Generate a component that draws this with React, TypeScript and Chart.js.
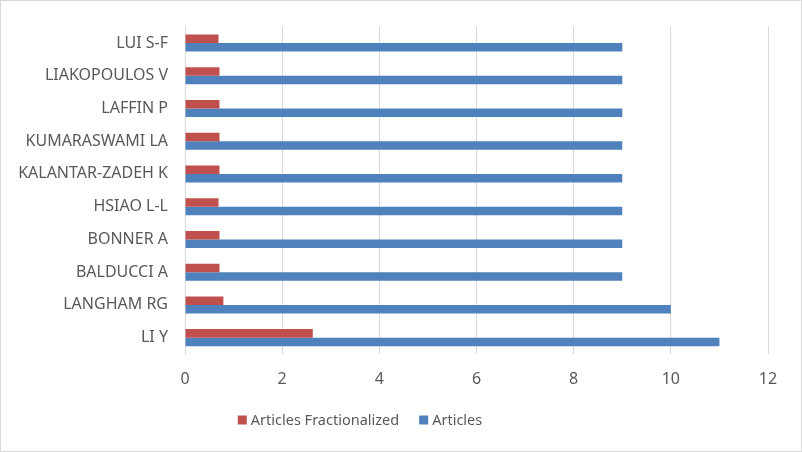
import React, { useEffect, useRef } from "react";
import { Chart, registerables } from "chart.js";

Chart.register(...registerables);

const categories = [
  "LUI S-F",
  "LIAKOPOULOS V",
  "LAFFIN P",
  "KUMARASWAMI LA",
  "KALANTAR-ZADEH K",
  "HSIAO L-L",
  "BONNER A",
  "BALDUCCI A",
  "LANGHAM RG",
  "LI Y",
];
const articlesFractionalized = [0.69, 0.71, 0.71, 0.71, 0.71, 0.69, 0.71, 0.71, 0.79, 2.63];
const articles = [9, 9, 9, 9, 9, 9, 9, 9, 10, 11];
const xTicks = [0, 2, 4, 6, 8, 10, 12];

const RED = "#C0504D";
const BLUE = "#4F81BD";
const TEXT = "#595959";
const GRID = "#D9D9D9";
const FONT_FAMILY = "'Noto Sans', 'Open Sans', sans-serif";
const TICK_SIZE = 16;
const LEGEND_SIZE = 14.5;

const legendPlugin = {
  id: "customLegend",
  afterDraw(chart: any) {
    const ctx = chart.ctx as CanvasRenderingContext2D;
    ctx.save();
    ctx.font = `${LEGEND_SIZE}px ${FONT_FAMILY}`;
    ctx.textBaseline = "middle";
    ctx.textAlign = "left";
    const box = 9;
    const gapText = 4;
    const gapItem = 20;
    const items = chart.data.datasets.map((ds: any) => ({ label: ds.label, color: ds.backgroundColor }));
    const widths = items.map((it: any) => box + gapText + ctx.measureText(it.label).width);
    const total = widths.reduce((a: number, b: number) => a + b, 0) + gapItem * (items.length - 1);
    let x = 360 - total / 2;
    const y = 420;
    items.forEach((it: any, i: number) => {
      ctx.fillStyle = it.color;
      ctx.fillRect(x, y - box / 2, box, box);
      ctx.fillStyle = TEXT;
      ctx.fillText(it.label, x + box + gapText, y + 1);
      x += widths[i] + gapItem;
    });
    ctx.restore();
  },
};

export default function App() {
  const ref = useRef<HTMLCanvasElement>(null);
  useEffect(() => {
    if (!ref.current) return;
    const chart = new Chart(ref.current, {
      type: "bar",
      data: {
        labels: categories,
        datasets: [
          { label: "Articles Fractionalized", data: articlesFractionalized, backgroundColor: RED },
          { label: "Articles", data: articles, backgroundColor: BLUE },
        ],
      },
      options: {
        indexAxis: "y",
        animation: false,
        responsive: true,
        maintainAspectRatio: false,
        datasets: { bar: { categoryPercentage: 0.52, barPercentage: 1 } },
        layout: { padding: { top: 24, right: 34, left: 0, bottom: 0 } },
        plugins: { legend: { display: false }, tooltip: { enabled: false } },
        scales: {
          x: {
            min: xTicks[0],
            max: xTicks[xTicks.length - 1],
            ticks: { stepSize: 2, color: TEXT, font: { family: FONT_FAMILY, size: TICK_SIZE }, padding: 16 },
            grid: { color: GRID, drawTicks: false, lineWidth: 1 },
            border: { display: false },
            afterFit: (s: any) => { s.height = 98; },
          },
          y: {
            ticks: { color: TEXT, font: { family: FONT_FAMILY, size: TICK_SIZE }, padding: 17 },
            grid: { display: false, drawTicks: false },
            border: { display: true, color: GRID, width: 1 },
            afterFit: (s: any) => { s.width = 185; },
          },
        },
      },
      plugins: [legendPlugin],
    });
    return () => chart.destroy();
  }, []);
  return (
    <div style={{ position: "fixed", left: 0, top: 0, width: 802, height: 452, background: "#fff" }}>
      <canvas ref={ref} />
      <div style={{ position: "absolute", inset: 0, border: "1px solid #D9D9D9", pointerEvents: "none" }} />
    </div>
  );
}
